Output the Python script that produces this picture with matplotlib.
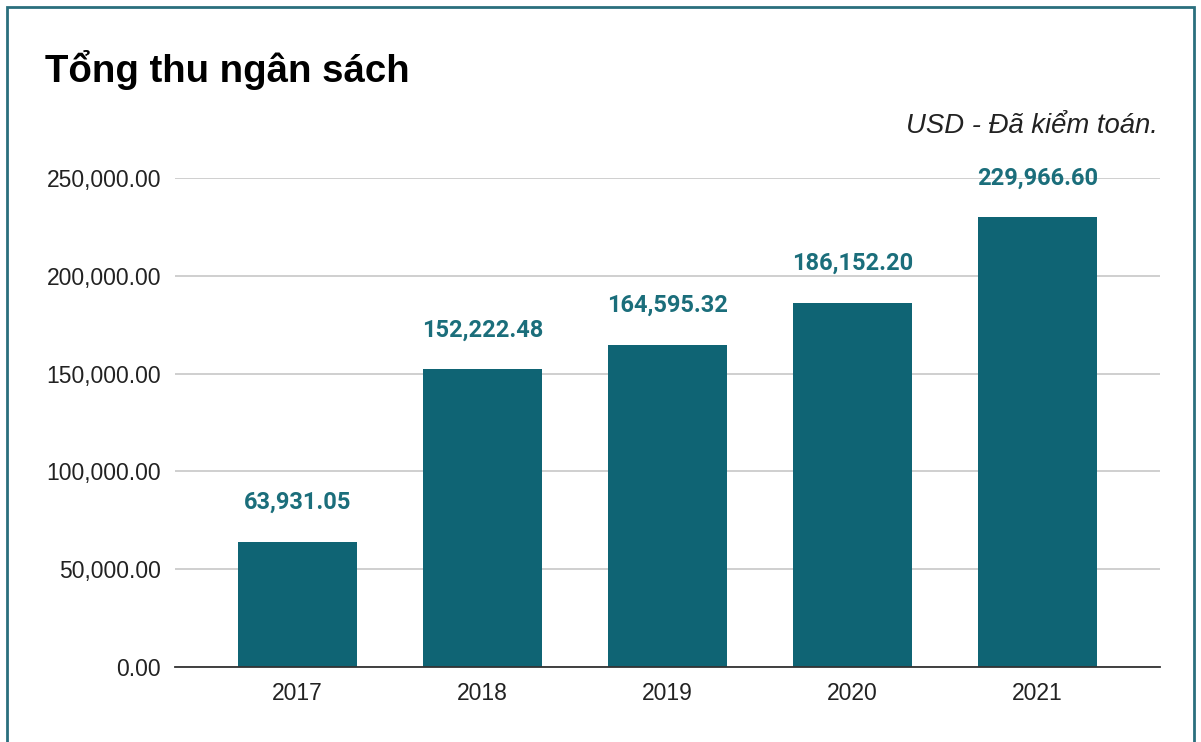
import matplotlib
matplotlib.use('Agg')
import matplotlib.pyplot as plt
from matplotlib.patches import Rectangle
from matplotlib.ticker import FuncFormatter

# data
years = ['2017', '2018', '2019', '2020', '2021']
revenue = [63931.05, 152222.48, 164595.32, 186152.20, 229966.60]
y_ticks = [0, 50000, 100000, 150000, 200000, 250000]

title = 'Tổng thu ngân sách'
subtitle = 'USD - Đã kiểm toán.'

bar_color = '#0f6474'
label_color = '#1b6e7b'

plt.rcParams['font.family'] = ['Liberation Sans', 'DejaVu Sans']

fig = plt.figure(figsize=(12.01, 7.42), dpi=100)
ax = fig.add_axes([175 / 1201, 1 - 667 / 742, 985 / 1201, (667 - 178) / 742])

x = list(range(len(years)))
bars = ax.bar(x, revenue, width=0.647, color=bar_color, zorder=3)

# value labels above the bars
for xi, v in zip(x, revenue):
    ax.annotate(f'{v:,.2f}', (xi, v), xytext=(0, 20), textcoords='offset points',
                ha='center', va='bottom', fontsize=17, fontweight='bold',
                color=label_color, family=['Roboto', 'DejaVu Sans'],
                annotation_clip=False, zorder=4)

ax.set_xlim(-0.663, len(years) - 1 + 0.663)
ax.set_ylim(0, 250000)
ax.set_yticks(y_ticks)
ax.yaxis.set_major_formatter(FuncFormatter(lambda v, p: f'{v:,.2f}'))
ax.set_xticks(x)
ax.set_xticklabels(years)

ax.grid(axis='y', color='#cccccc', linewidth=1.3, zorder=0)
for s in ['top', 'right', 'left']:
    ax.spines[s].set_visible(False)
ax.spines['bottom'].set_color('#333333')
ax.spines['bottom'].set_linewidth(1.3)
ax.spines['bottom'].set_zorder(5)
ax.tick_params(axis='both', length=0, labelsize=16.5, colors='#222222')
ax.tick_params(axis='y', pad=10)
ax.tick_params(axis='x', pad=11)

fig.text(45 / 1201, 1 - 82 / 742, title, fontsize=27.6, fontweight='bold',
         ha='left', va='baseline', color='black')
fig.text(1158 / 1201, 1 - 133 / 742, subtitle, fontsize=19.8, style='italic',
         ha='right', va='baseline', color='#222222')

# outer border
fig.patches.append(Rectangle((7 / 1201, -0.02), (1194 - 7) / 1201, 1.02 - 7 / 742,
                             transform=fig.transFigure, fill=False,
                             edgecolor='#2a6f7d', linewidth=2))

fig.savefig('out.png', dpi=100)
